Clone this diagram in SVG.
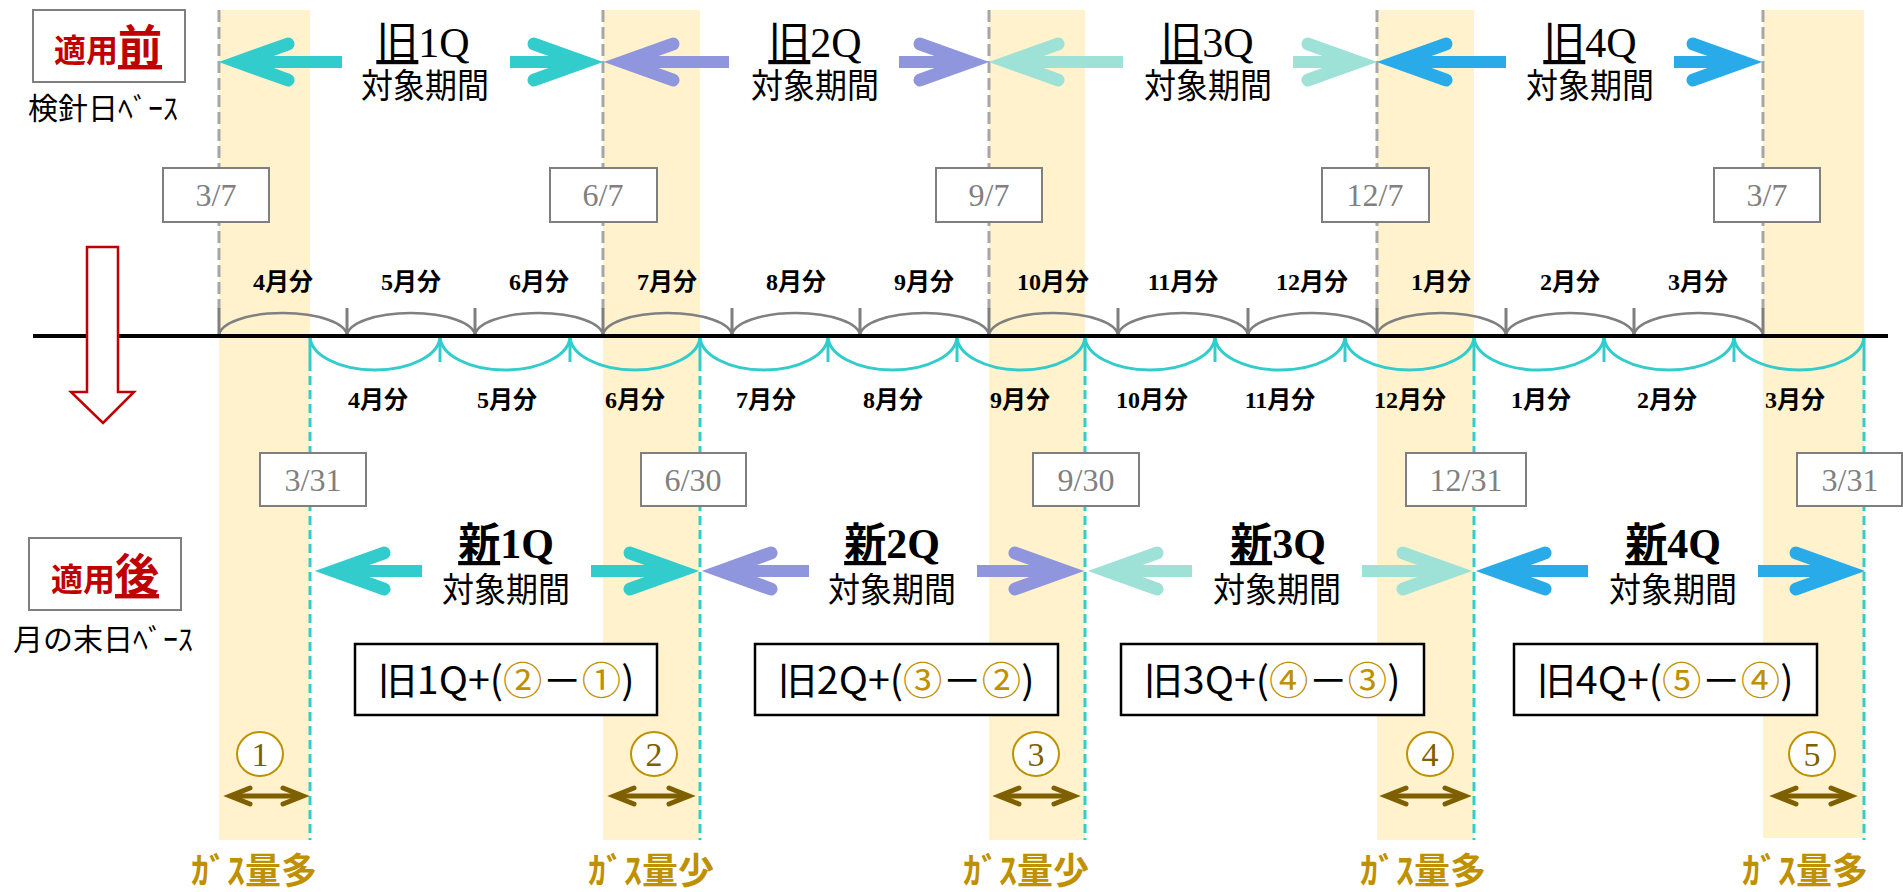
<svg xmlns="http://www.w3.org/2000/svg" width="1903" height="892" viewBox="0 0 1903 892">
<style>
.band{fill:#fff2cc}
.gdash{stroke:#a6a6a6;stroke-width:3;stroke-dasharray:12 5;fill:none}
.cdash{stroke:#33cccc;stroke-width:3;stroke-dasharray:9 5;fill:none}
.gtick{stroke:#7f7f7f;stroke-width:3}
.ctick{stroke:#33cccc;stroke-width:3}
.garc{fill:none;stroke:#808080;stroke-width:2.5}
.carc{fill:none;stroke:#33cccc;stroke-width:3}
.datebox{fill:#fff;stroke:#7f7f7f;stroke-width:2}
.datetxt{font-family:"Liberation Serif","Noto Sans CJK JP",serif;font-size:32px;fill:#808080;text-anchor:middle}
.mon{font-family:"Liberation Serif","Noto Sans CJK JP",serif;font-size:24px;font-weight:bold;text-anchor:middle;fill:#000}
.qlab{font-family:"Liberation Serif","Noto Sans CJK JP",serif;font-size:42px;text-anchor:middle;fill:#000}
.qsub{font-family:"Noto Sans CJK JP",sans-serif;font-size:32px;text-anchor:middle;fill:#000}
.head{font-family:"Noto Sans CJK JP",sans-serif;font-weight:bold;fill:#c00000}
.base{font-family:"Noto Sans CJK JP",sans-serif;font-size:30px;text-anchor:middle;fill:#000}
.hbox{fill:#fff;stroke:#7f7f7f;stroke-width:2}
.fbox{fill:#fff;stroke:#000;stroke-width:2.5}
.ftxt{font-family:"Noto Sans CJK JP",sans-serif;font-size:38px;text-anchor:middle;fill:#000}
.gold{fill:#bf9000}
.circ{fill:#fff;stroke:#bf9000;stroke-width:2}
.cnum{font-family:"Liberation Serif",serif;font-size:34px;text-anchor:middle;fill:#7f6000}
.gas{font-family:"Noto Sans CJK JP",sans-serif;font-size:36px;font-weight:bold;text-anchor:middle;fill:#bf9000}
.shaft{fill:none;stroke-width:12}
.dbl{fill:none;stroke:#7f6000;stroke-width:5;marker-start:url(#mBrown);marker-end:url(#mBrown)}
</style>
<defs>
<marker id="mCyan" markerUnits="userSpaceOnUse" orient="auto" refX="0" refY="0" markerWidth="10" markerHeight="10" overflow="visible"><polyline points="-52,-18 -2,0 -52,18" fill="none" stroke="#33cccc" stroke-width="13" stroke-linecap="round" stroke-linejoin="miter" stroke-miterlimit="10"/></marker>
<marker id="mPurple" markerUnits="userSpaceOnUse" orient="auto" refX="0" refY="0" markerWidth="10" markerHeight="10" overflow="visible"><polyline points="-52,-18 -2,0 -52,18" fill="none" stroke="#8f96de" stroke-width="13" stroke-linecap="round" stroke-linejoin="miter" stroke-miterlimit="10"/></marker>
<marker id="mTeal" markerUnits="userSpaceOnUse" orient="auto" refX="0" refY="0" markerWidth="10" markerHeight="10" overflow="visible"><polyline points="-52,-18 -2,0 -52,18" fill="none" stroke="#9ee1d7" stroke-width="13" stroke-linecap="round" stroke-linejoin="miter" stroke-miterlimit="10"/></marker>
<marker id="mBlue" markerUnits="userSpaceOnUse" orient="auto" refX="0" refY="0" markerWidth="10" markerHeight="10" overflow="visible"><polyline points="-52,-18 -2,0 -52,18" fill="none" stroke="#29abe9" stroke-width="13" stroke-linecap="round" stroke-linejoin="miter" stroke-miterlimit="10"/></marker>
<marker id="mBrown" markerUnits="userSpaceOnUse" orient="auto-start-reverse" refX="0" refY="0" markerWidth="10" markerHeight="10" overflow="visible"><polyline points="-19,-8 1,0 -19,8" fill="none" stroke="#7f6000" stroke-width="5" stroke-linecap="round" stroke-linejoin="miter" stroke-miterlimit="10"/></marker>
</defs>
<rect width="1903" height="892" fill="#fff"/>

<g id="bands">
<rect class="band" x="219" y="10" width="91" height="830"/>
<rect class="band" x="603" y="10" width="97" height="830"/>
<rect class="band" x="989" y="10" width="96" height="830"/>
<rect class="band" x="1377" y="10" width="97" height="830"/>
<rect class="band" x="1763" y="10" width="101" height="828"/>
</g>

<g id="guides">
<line class="gdash" x1="219" y1="10" x2="219" y2="309"/>
<line class="gdash" x1="603" y1="10" x2="603" y2="309"/>
<line class="gdash" x1="989" y1="10" x2="989" y2="309"/>
<line class="gdash" x1="1377" y1="10" x2="1377" y2="309"/>
<line class="gdash" x1="1763" y1="10" x2="1763" y2="309"/>
<line class="cdash" x1="310" y1="362" x2="310" y2="840"/>
<line class="cdash" x1="700" y1="362" x2="700" y2="840"/>
<line class="cdash" x1="1085" y1="362" x2="1085" y2="840"/>
<line class="cdash" x1="1474" y1="362" x2="1474" y2="840"/>
<line class="cdash" x1="1864" y1="362" x2="1864" y2="840"/>
</g>

<g id="timeline">
<path class="garc" d="M219,336 A64,23 0 0 1 347,336 A64,23 0 0 1 475,336 A64,23 0 0 1 603,336 A64.5,23 0 0 1 732,336 A64,23 0 0 1 860,336 A64.5,23 0 0 1 989,336 A64.5,23 0 0 1 1118,336 A65,23 0 0 1 1248,336 A64.5,23 0 0 1 1377,336 A64.5,23 0 0 1 1506,336 A64,23 0 0 1 1634,336 A64.5,23 0 0 1 1763,336"/>
<g class="gtick">
<line x1="219" y1="308" x2="219" y2="336"/><line x1="347" y1="308" x2="347" y2="336"/><line x1="475" y1="308" x2="475" y2="336"/><line x1="603" y1="308" x2="603" y2="336"/><line x1="732" y1="308" x2="732" y2="336"/><line x1="860" y1="308" x2="860" y2="336"/><line x1="989" y1="308" x2="989" y2="336"/><line x1="1118" y1="308" x2="1118" y2="336"/><line x1="1248" y1="308" x2="1248" y2="336"/><line x1="1377" y1="308" x2="1377" y2="336"/><line x1="1506" y1="308" x2="1506" y2="336"/><line x1="1634" y1="308" x2="1634" y2="336"/><line x1="1763" y1="308" x2="1763" y2="336"/>
</g>
<path class="carc" d="M310,336 A65,34 0 0 0 440,336 A65,34 0 0 0 570,336 A65,34 0 0 0 700,336 A64,34 0 0 0 828,336 A64.5,34 0 0 0 957,336 A64,34 0 0 0 1085,336 A65,34 0 0 0 1215,336 A65,34 0 0 0 1345,336 A64.5,34 0 0 0 1474,336 A65,34 0 0 0 1604,336 A65,34 0 0 0 1734,336 A65,34 0 0 0 1864,336"/>
<g class="ctick">
<line x1="310" y1="336" x2="310" y2="362"/><line x1="440" y1="336" x2="440" y2="362"/><line x1="570" y1="336" x2="570" y2="362"/><line x1="700" y1="336" x2="700" y2="362"/><line x1="828" y1="336" x2="828" y2="362"/><line x1="957" y1="336" x2="957" y2="362"/><line x1="1085" y1="336" x2="1085" y2="362"/><line x1="1215" y1="336" x2="1215" y2="362"/><line x1="1345" y1="336" x2="1345" y2="362"/><line x1="1474" y1="336" x2="1474" y2="362"/><line x1="1604" y1="336" x2="1604" y2="362"/><line x1="1734" y1="336" x2="1734" y2="362"/><line x1="1864" y1="336" x2="1864" y2="362"/>
</g>
<line x1="33" y1="336" x2="1888" y2="336" stroke="#000" stroke-width="4"/>
</g>

<g id="months-old">
<text class="mon" x="283" y="290">4月分</text>
<text class="mon" x="411" y="290">5月分</text>
<text class="mon" x="539" y="290">6月分</text>
<text class="mon" x="667" y="290">7月分</text>
<text class="mon" x="796" y="290">8月分</text>
<text class="mon" x="924" y="290">9月分</text>
<text class="mon" x="1053" y="290">10月分</text>
<text class="mon" x="1183" y="290">11月分</text>
<text class="mon" x="1312" y="290">12月分</text>
<text class="mon" x="1441" y="290">1月分</text>
<text class="mon" x="1570" y="290">2月分</text>
<text class="mon" x="1698" y="290">3月分</text>
</g>
<g id="months-new">
<text class="mon" x="378" y="408">4月分</text>
<text class="mon" x="507" y="408">5月分</text>
<text class="mon" x="635" y="408">6月分</text>
<text class="mon" x="766" y="408">7月分</text>
<text class="mon" x="893" y="408">8月分</text>
<text class="mon" x="1020" y="408">9月分</text>
<text class="mon" x="1152" y="408">10月分</text>
<text class="mon" x="1280" y="408">11月分</text>
<text class="mon" x="1410" y="408">12月分</text>
<text class="mon" x="1541" y="408">1月分</text>
<text class="mon" x="1667" y="408">2月分</text>
<text class="mon" x="1795" y="408">3月分</text>
</g>

<g id="red-arrow">
<polygon points="87,247 118,247 118,392 134,392 103,423 71,392 87,392" fill="#fff" stroke="#c00000" stroke-width="2.5"/>
</g>

<g id="header-before">
<rect class="hbox" x="33" y="10" width="152" height="72"/>
<text class="head" x="108" y="62" text-anchor="middle"><tspan font-size="32">適用</tspan><tspan font-size="44" text-decoration="underline">前</tspan></text>
<text class="base" x="103" y="119">検針日ﾍﾞｰｽ</text>
</g>
<g id="header-after">
<rect class="hbox" x="29" y="538" width="152" height="72"/>
<text class="head" x="105" y="591" text-anchor="middle"><tspan font-size="32">適用</tspan><tspan font-size="44" text-decoration="underline">後</tspan></text>
<text class="base" x="103" y="650">月の末日ﾍﾞｰｽ</text>
</g>

<g id="dates-old">
<g id="d-0307a"><rect class="datebox" x="163" y="168" width="106" height="54"/><text class="datetxt" x="216" y="206">3/7</text></g>
<g id="d-0607"><rect class="datebox" x="550" y="168" width="107" height="54"/><text class="datetxt" x="603" y="206">6/7</text></g>
<g id="d-0907"><rect class="datebox" x="936" y="168" width="106" height="54"/><text class="datetxt" x="989" y="206">9/7</text></g>
<g id="d-1207"><rect class="datebox" x="1322" y="168" width="107" height="54"/><text class="datetxt" x="1375" y="206">12/7</text></g>
<g id="d-0307b"><rect class="datebox" x="1714" y="168" width="106" height="54"/><text class="datetxt" x="1767" y="206">3/7</text></g>
</g>
<g id="dates-new">
<g id="d-0331a"><rect class="datebox" x="260" y="453" width="106" height="53"/><text class="datetxt" x="313" y="491">3/31</text></g>
<g id="d-0630"><rect class="datebox" x="641" y="453" width="105" height="53"/><text class="datetxt" x="693" y="491">6/30</text></g>
<g id="d-0930"><rect class="datebox" x="1033" y="453" width="106" height="53"/><text class="datetxt" x="1086" y="491">9/30</text></g>
<g id="d-1231"><rect class="datebox" x="1406" y="453" width="120" height="53"/><text class="datetxt" x="1466" y="491">12/31</text></g>
<g id="d-0331b"><rect class="datebox" x="1797" y="453" width="105" height="53"/><text class="datetxt" x="1850" y="491">3/31</text></g>
</g>

<g id="connectors">
<path class="shaft" stroke="#33cccc" marker-end="url(#mCyan)" d="M342,62 L236,62"/>
<path class="shaft" stroke="#33cccc" marker-end="url(#mCyan)" d="M510,62 L586,62"/>
<path class="shaft" stroke="#8f96de" marker-end="url(#mPurple)" d="M729,62 L621,62"/>
<path class="shaft" stroke="#8f96de" marker-end="url(#mPurple)" d="M899,62 L972,62"/>
<path class="shaft" stroke="#9ee1d7" marker-end="url(#mTeal)" d="M1123,62 L1006,62"/>
<path class="shaft" stroke="#9ee1d7" marker-end="url(#mTeal)" d="M1293,62 L1360,62"/>
<path class="shaft" stroke="#29abe9" marker-end="url(#mBlue)" d="M1506,62 L1394,62"/>
<path class="shaft" stroke="#29abe9" marker-end="url(#mBlue)" d="M1674,62 L1745,62"/>
<path class="shaft" stroke="#33cccc" marker-end="url(#mCyan)" d="M422,571 L332,571"/>
<path class="shaft" stroke="#33cccc" marker-end="url(#mCyan)" d="M591,571 L682,571"/>
<path class="shaft" stroke="#8f96de" marker-end="url(#mPurple)" d="M809,571 L719,571"/>
<path class="shaft" stroke="#8f96de" marker-end="url(#mPurple)" d="M977,571 L1067,571"/>
<path class="shaft" stroke="#9ee1d7" marker-end="url(#mTeal)" d="M1192,571 L1105,571"/>
<path class="shaft" stroke="#9ee1d7" marker-end="url(#mTeal)" d="M1362,571 L1455,571"/>
<path class="shaft" stroke="#29abe9" marker-end="url(#mBlue)" d="M1588,571 L1493,571"/>
<path class="shaft" stroke="#29abe9" marker-end="url(#mBlue)" d="M1758,571 L1848,571"/>
<path class="dbl" d="M231,796 L302,796"/>
<path class="dbl" d="M615,796 L688,796"/>
<path class="dbl" d="M1000,796 L1073,796"/>
<path class="dbl" d="M1387,796 L1464,796"/>
<path class="dbl" d="M1777,796 L1850,796"/>
</g>

<g id="old-q1"><text class="qlab" x="423" y="57"><tspan text-decoration="underline">旧</tspan>1Q</text><text class="qsub" transform="translate(425,98) scale(1,1.08)">対象期間</text></g>
<g id="old-q2"><text class="qlab" x="815" y="57"><tspan text-decoration="underline">旧</tspan>2Q</text><text class="qsub" transform="translate(815,98) scale(1,1.08)">対象期間</text></g>
<g id="old-q3"><text class="qlab" x="1207" y="57"><tspan text-decoration="underline">旧</tspan>3Q</text><text class="qsub" transform="translate(1208,98) scale(1,1.08)">対象期間</text></g>
<g id="old-q4"><text class="qlab" x="1590" y="57"><tspan text-decoration="underline">旧</tspan>4Q</text><text class="qsub" transform="translate(1590,98) scale(1,1.08)">対象期間</text></g>

<g id="new-q1"><text class="qlab" x="506" y="558" font-weight="bold"><tspan text-decoration="underline">新</tspan>1Q</text><text class="qsub" transform="translate(506,602) scale(1,1.08)">対象期間</text></g>
<g id="new-q2"><text class="qlab" x="892" y="558" font-weight="bold"><tspan text-decoration="underline">新</tspan>2Q</text><text class="qsub" transform="translate(892,602) scale(1,1.08)">対象期間</text></g>
<g id="new-q3"><text class="qlab" x="1278" y="558" font-weight="bold"><tspan text-decoration="underline">新</tspan>3Q</text><text class="qsub" transform="translate(1277,602) scale(1,1.08)">対象期間</text></g>
<g id="new-q4"><text class="qlab" x="1673" y="558" font-weight="bold"><tspan text-decoration="underline">新</tspan>4Q</text><text class="qsub" transform="translate(1673,602) scale(1,1.08)">対象期間</text></g>

<g id="formula-1"><rect class="fbox" x="355" y="644" width="302" height="71"/><text class="ftxt" x="506" y="694" textLength="257" lengthAdjust="spacingAndGlyphs">旧1Q+(<tspan class="gold">②</tspan>－<tspan class="gold">①</tspan>)</text></g>
<g id="formula-2"><rect class="fbox" x="755" y="644" width="303" height="71"/><text class="ftxt" x="906" y="694" textLength="257" lengthAdjust="spacingAndGlyphs">旧2Q+(<tspan class="gold">③</tspan>－<tspan class="gold">②</tspan>)</text></g>
<g id="formula-3"><rect class="fbox" x="1121" y="644" width="303" height="71"/><text class="ftxt" x="1272" y="694" textLength="257" lengthAdjust="spacingAndGlyphs">旧3Q+(<tspan class="gold">④</tspan>－<tspan class="gold">③</tspan>)</text></g>
<g id="formula-4"><rect class="fbox" x="1514" y="644" width="303" height="71"/><text class="ftxt" x="1665" y="694" textLength="257" lengthAdjust="spacingAndGlyphs">旧4Q+(<tspan class="gold">⑤</tspan>－<tspan class="gold">④</tspan>)</text></g>

<g id="mark-1"><ellipse class="circ" cx="260" cy="754" rx="23" ry="22"/><text class="cnum" x="260" y="766">1</text></g>
<g id="mark-2"><ellipse class="circ" cx="654" cy="754" rx="23" ry="22"/><text class="cnum" x="654" y="766">2</text></g>
<g id="mark-3"><ellipse class="circ" cx="1036" cy="754" rx="23" ry="22"/><text class="cnum" x="1036" y="766">3</text></g>
<g id="mark-4"><ellipse class="circ" cx="1430" cy="754" rx="23" ry="22"/><text class="cnum" x="1430" y="766">4</text></g>
<g id="mark-5"><ellipse class="circ" cx="1812" cy="754" rx="23" ry="22"/><text class="cnum" x="1812" y="766">5</text></g>

<g id="gas-1"><text class="gas" x="254" y="884">ｶﾞｽ量多</text></g>
<g id="gas-2"><text class="gas" x="651" y="884">ｶﾞｽ量少</text></g>
<g id="gas-3"><text class="gas" x="1026" y="884">ｶﾞｽ量少</text></g>
<g id="gas-4"><text class="gas" x="1423" y="884">ｶﾞｽ量多</text></g>
<g id="gas-5"><text class="gas" x="1805" y="884">ｶﾞｽ量多</text></g>
</svg>
